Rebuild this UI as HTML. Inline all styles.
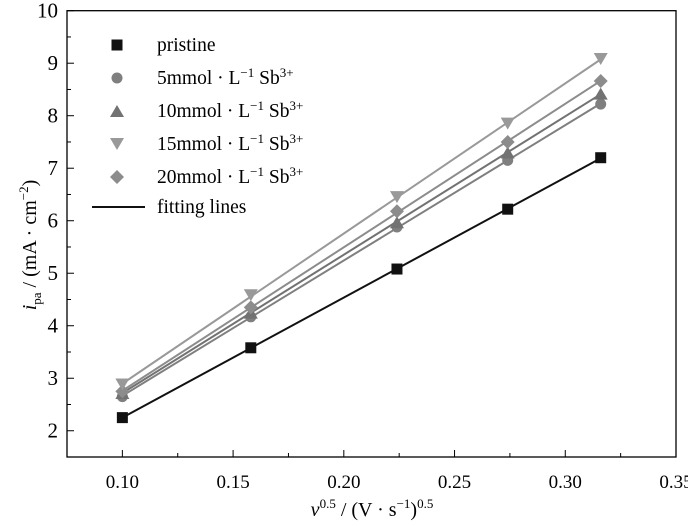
<!DOCTYPE html>
<html><head><meta charset="utf-8"><style>
body{margin:0;background:#fff}
svg{display:block;font-family:"Liberation Serif",serif}
</style></head><body>
<svg id="c" width="688" height="526"></svg>
<script>
const xs=[0.1,0.158,0.224,0.274,0.316];
const pristine=[2.25,3.58,5.08,6.22,7.2];
const s5=[2.65,4.17,5.88,7.15,8.22];
const s10=[2.72,4.25,5.97,7.3,8.42];
const s15=[2.88,4.58,6.45,7.85,9.08];
const s20=[2.75,4.35,6.18,7.5,8.66];
const xTicks=[0.10,0.15,0.20,0.25,0.30,0.35];
const yTicks=[2,3,4,5,6,7,8,9,10];
const NS="http://www.w3.org/2000/svg";
const svg=document.getElementById('c');
const L=67,R=676,T=10.7,B=457;
const X=v=>L+(v-0.075)/(0.35-0.075)*(R-L);
const Y=v=>B-(v-1.5)/(10-1.5)*(B-T);
function el(t,a,p){const e=document.createElementNS(NS,t);for(const k in a)e.setAttribute(k,a[k]);(p||svg).appendChild(e);return e;}
const frame=el('rect',{x:L,y:T,width:R-L,height:B-T,fill:'none',stroke:'#000','stroke-width':1.3});


xTicks.forEach((v,i)=>{
 const t=el('line',{x1:X(v),x2:X(v),y1:B,y2:B-7,stroke:'#000'});
 
 
 if(i<xTicks.length-1){const m=el('line',{x1:X(v+0.025),x2:X(v+0.025),y1:B,y2:B-4,stroke:'#000'});
 
 }
 const lb=el('text',{x:X(v),y:B+31,'font-size':19,'text-anchor':'middle'});lb.textContent=v.toFixed(2);
 
 
});
yTicks.forEach((v,i)=>{
 const t=el('line',{x1:L,x2:L+7,y1:Y(v),y2:Y(v),stroke:'#000'});
 
 
 const m=el('line',{x1:L,x2:L+4,y1:Y(v-0.5),y2:Y(v-0.5),stroke:'#000'});
 
 
 const lb=el('text',{x:L-9,y:Y(v)+7,'font-size':21,'text-anchor':'end'});lb.textContent=v;
 
 
});
function marker(type,cx,cy,col,name){
 let e;
 if(type==='sq')e=el('rect',{x:cx-5.5,y:cy-5.5,width:11,height:11,fill:col});
 else if(type==='ci')e=el('circle',{cx:cx,cy:cy,r:5.5,fill:col});
 else if(type==='up')e=el('polygon',{points:`${cx},${cy-6} ${cx+7},${cy+6} ${cx-7},${cy+6}`,fill:col});
 else if(type==='dn')e=el('polygon',{points:`${cx-7},${cy-6} ${cx+7},${cy-6} ${cx},${cy+6}`,fill:col});
 else e=el('polygon',{points:`${cx},${cy-7} ${cx+7},${cy} ${cx},${cy+7} ${cx-7},${cy}`,fill:col});
 
 
}
const series=[[s5,'ci','#7f7f7f','5mmol'],[s10,'up','#727272','10mmol'],[s20,'dm','#8c8c8c','20mmol'],[s15,'dn','#999999','15mmol'],[pristine,'sq','#111111','pristine']];
series.forEach(([ys,m,col,n])=>{
 const k=xs.length,mx=xs.reduce((a,b)=>a+b)/k,my=ys.reduce((a,b)=>a+b)/k;
 let sxy=0,sxx=0;xs.forEach((x,i)=>{sxy+=(x-mx)*(ys[i]-my);sxx+=(x-mx)**2;});
 const b=sxy/sxx,a=my-b*mx,x0=xs[0],x1=xs[k-1];
 const ln=el('line',{x1:X(x0),y1:Y(a+b*x0),x2:X(x1),y2:Y(a+b*x1),stroke:n==='pristine'?'#111':col,'stroke-width':2});
 
 
 xs.forEach((x,i)=>marker(m,X(x),Y(ys[i]),col,'point-'+n));
});
const leg=[['sq','#111111','pristine'],['ci','#7f7f7f','5mmol'],['up','#727272','10mmol'],['dn','#999999','15mmol'],['dm','#8c8c8c','20mmol']];
leg.forEach(([m,col,n],i)=>{
 const y=45+i*33;
 marker(m,117,y,col,'legend-marker-'+n);
 const t=el('text',{x:157,y:y+6,'font-size':19.5});
 if(n==='pristine')t.textContent='pristine';
 else t.innerHTML=n+' · L<tspan font-size="13" dy="-7">−1</tspan><tspan dy="7"> Sb</tspan><tspan font-size="13" dy="-7">3+</tspan>';
 
 
});
const ll=el('line',{x1:92,x2:145,y1:207,y2:207,stroke:'#111','stroke-width':2});


const lt=el('text',{x:157,y:213,'font-size':19.5});lt.textContent='fitting lines';


const xt=el('text',{x:372,y:516,'font-size':20,'text-anchor':'middle'});
xt.innerHTML='<tspan font-style="italic">v</tspan><tspan font-size="13" dy="-8">0.5</tspan><tspan dy="8"> / (V · s</tspan><tspan font-size="13" dy="-8">−1</tspan><tspan dy="8">)</tspan><tspan font-size="13" dy="-8">0.5</tspan>';


const yt=el('text',{x:0,y:0,'font-size':20,'text-anchor':'middle',transform:'translate(36,245) rotate(-90)'});
yt.innerHTML='<tspan font-style="italic">i</tspan><tspan font-size="13" dy="5">pa</tspan><tspan dy="-5"> / (mA · cm</tspan><tspan font-size="13" dy="-8">−2</tspan><tspan dy="8">)</tspan>';


</script>
</body></html>
